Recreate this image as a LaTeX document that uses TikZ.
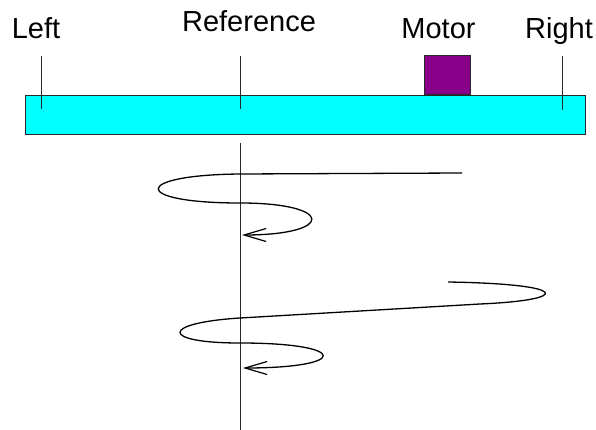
\documentclass[tikz,border=0pt]{standalone}
\usepackage{fontspec}
\setmainfont{Liberation Sans}
\usetikzlibrary{arrows.meta}
\definecolor{barcyan}{RGB}{0,255,255}
\definecolor{motorpurple}{RGB}{139,0,139}
\definecolor{edgegray}{RGB}{40,40,40}
\begin{document}
\begin{tikzpicture}[x=1pt,y=-1pt,
  lbl/.style={anchor=base,inner sep=0pt,font=\fontsize{29}{34}\selectfont},
  tick/.style={line width=1pt,draw=edgegray},
  path/.style={line width=1.3pt,draw=black},
  tip/.style={-{Straight Barb[length=22pt,width=13pt,line width=1.2pt]}}]
\useasboundingbox (0,0) rectangle (596,430);
% bar and motor
\node[draw=edgegray,line width=1pt,fill=barcyan,minimum width=560pt,minimum height=39pt,inner sep=0pt,anchor=north west] (bar) at (25,95) {};
\node[draw=edgegray,line width=1pt,fill=motorpurple,minimum width=46pt,minimum height=39pt,inner sep=0pt,anchor=south west] (motor) at (424,95) {};
% labels
\node[lbl] (lleft) at (36,39) {Left};
\node[lbl] (lref) at (249,32) {Reference};
\node[lbl] (lmotor) at (438.5,39) {Motor};
\node[lbl] (lright) at (559,39) {Right};
% ticks
\coordinate (lt1) at (41,56); \coordinate (lt2) at (41,109);
\coordinate (rt1) at (240,56); \coordinate (rt2) at (240,109);
\coordinate (gt1) at (562,56); \coordinate (gt2) at (562,110);
\draw[tick] (lt1) -- (lt2);
\draw[tick] (rt1) -- (rt2);
\draw[tick] (gt1) -- (gt2);
% reference line
\coordinate (refA) at (240,143); \coordinate (refB) at (240,430);
\draw[tick] (refA) -- (refB);
% spiral 1
\coordinate (s1a) at (462,173);
\coordinate (s1b) at (240,174);
\coordinate (s1c) at (240,203);
\coordinate (s1d) at (242,235);
\draw[path,tip] (s1a) -- (s1b) .. controls (131,175) and (131,203) .. (s1c)
  .. controls (335,203) and (335,235) .. (s1d);
% spiral 2
\coordinate (s2a) at (448,282);
\coordinate (s2b) at (480,304);
\coordinate (s2c) at (240,318);
\coordinate (s2d) at (240,343);
\coordinate (s2e) at (243,368);
\draw[path,tip] (s2a) .. controls (572,284) and (572,300) .. (s2b) -- (s2c)
  .. controls (160,323) and (160,343) .. (s2d)
  .. controls (350,343) and (350,368) .. (s2e);
\end{tikzpicture}
\end{document}
